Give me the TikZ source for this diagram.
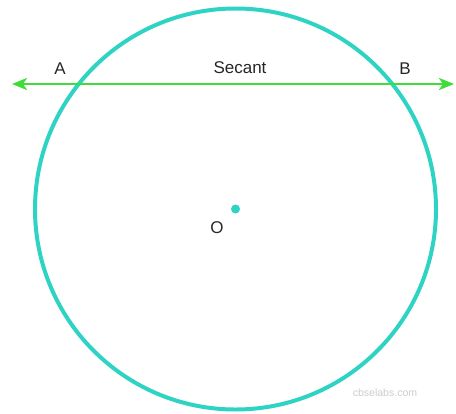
\documentclass[tikz,border=0pt]{standalone}
\usepackage{fontspec}
\setmainfont{Liberation Sans}
\usepackage{xcolor}
\definecolor{cCirc}{HTML}{2ED3C4}
\definecolor{cSec}{HTML}{3FDC3A}
\definecolor{cMark}{HTML}{CCCCCC}
\usetikzlibrary{arrows.meta,positioning}

\begin{document}
\begin{tikzpicture}[x=0.03cm,y=-0.03cm,
  font=\fontsize{14.5}{17}\selectfont,
  circ/.style={draw=cCirc,line width=3.4pt},
  sec/.style={{Stealth[length=4.5mm,width=3.6mm,inset=1.2mm]}-{Stealth[length=4.5mm,width=3.6mm,inset=1.2mm]},cSec,line width=2.4pt},
  lab/.style={text=black!85,inner sep=1pt},
  wmark/.style={text=cMark,font=\fontsize{9}{11}\selectfont}]
\useasboundingbox (0,0) rectangle (456,413);
\coordinate (O) at (235.5,209);
\draw[circ] (O) circle[radius=200.5];
\fill[cCirc] (O) circle[radius=4.5];
\coordinate (left) at (12,84);
\coordinate (right) at (454,84);
\draw[sec] (left) -- (right);
\node[lab] (a) at (60,69) {A};
\node[lab] (b) at (405,69) {B};
\node[lab] (secant) at (240,68) {Secant};
\node[lab] (o) at (217,228) {O};
\node[wmark] (web) at (385,393) {cbselabs.com};
\end{tikzpicture}
\end{document}
